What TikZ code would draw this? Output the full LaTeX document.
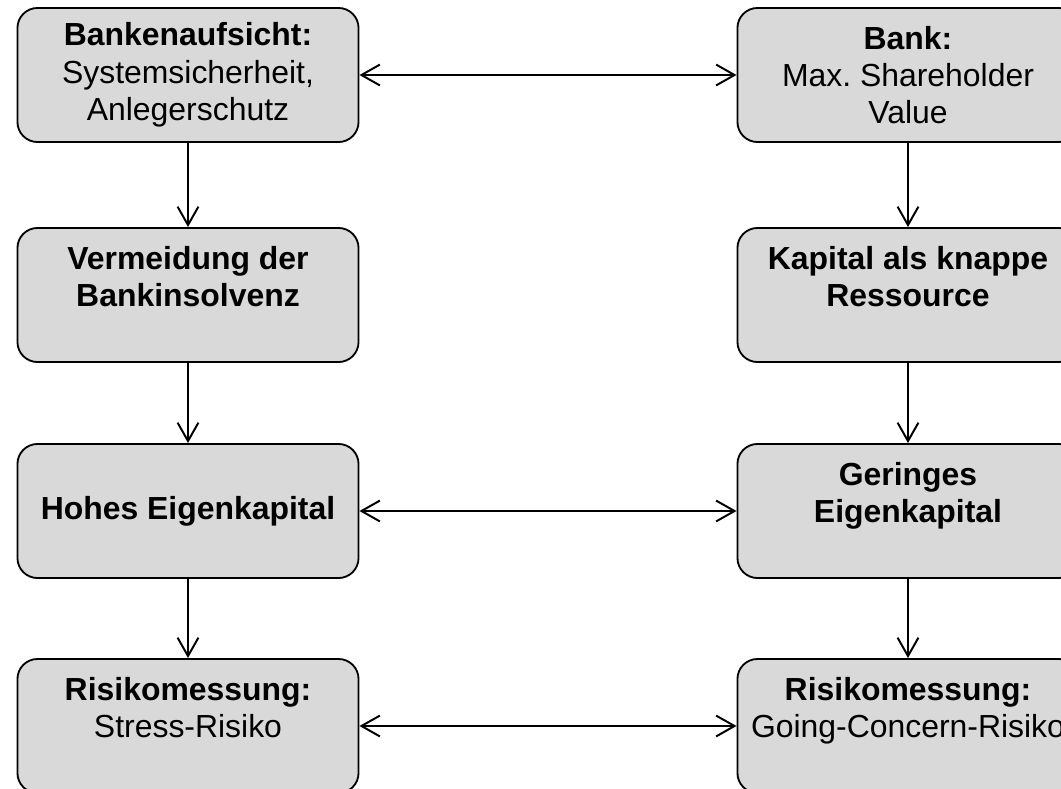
\documentclass[tikz,border=0pt]{standalone}
\usepackage{fontspec}
\setmainfont{Liberation Sans}
\usetikzlibrary{arrows.meta,positioning}
\definecolor{BoxGray}{RGB}{217,217,217}
\frenchspacing
\tikzset{
  goal/.style={draw=black,fill=BoxGray,line width=1.3pt,rounded corners=0.5cm,minimum width=8.525cm,minimum height=3.35cm,inner sep=0pt,align=center,font=\fontsize{22.7}{26.6}\selectfont},
  flow/.style={-{Straight Barb[length=4.6mm,width=5.2mm,line width=1.4pt]},line width=1.3pt},
  tradeoff/.style={{Straight Barb[length=4.6mm,width=5.2mm,line width=1.4pt]}-{Straight Barb[length=4.6mm,width=5.2mm,line width=1.4pt]},line width=1.3pt}
}
\begin{document}
\begin{tikzpicture}[x=0.025cm,y=-0.025cm]
\useasboundingbox (0,0) rectangle (1061,789);

\node[goal] (sup) at (188,75) {\textbf{Bankenaufsicht:}\\Systemsicherheit,\\Anlegerschutz};
\node[goal] (bank) at (908,75) {\textbf{Bank:}\\Max. Shareholder\\Value};
\node[goal] (avoid) at (188,295) {\textbf{Vermeidung der}\\\textbf{Bankinsolvenz}\\\mbox{}};
\node[goal] (scarce) at (908,295) {\textbf{Kapital als knappe}\\\textbf{Ressource}\\\mbox{}};
\node[goal] (high) at (188,511) {\textbf{Hohes Eigenkapital}};
\node[goal] (low) at (908,511) {\textbf{Geringes}\\\textbf{Eigenkapital}\\\mbox{}};
\node[goal] (stress) at (188,726) {\textbf{Risikomessung:}\\Stress-Risiko\\\mbox{}};
\node[goal] (going) at (908,726) {\textbf{Risikomessung:}\\Going-Concern-Risiko\\\mbox{}};

\draw[flow] (sup) -- (avoid);
\draw[flow] (avoid) -- (high);
\draw[flow] (high) -- (stress);
\draw[flow] (bank) -- (scarce);
\draw[flow] (scarce) -- (low);
\draw[flow] (low) -- (going);

\draw[tradeoff] (sup) -- (bank);
\draw[tradeoff] (high) -- (low);
\draw[tradeoff] (stress) -- (going);
\end{tikzpicture}
\end{document}
